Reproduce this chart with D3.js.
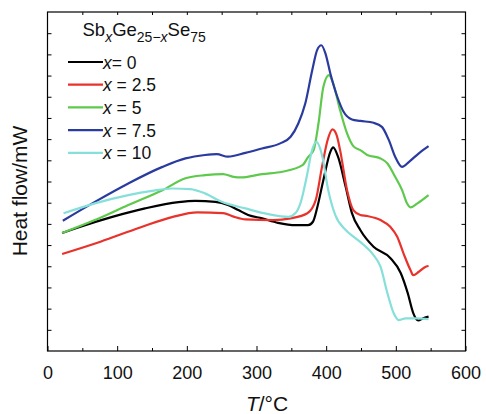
<!DOCTYPE html>
<html>
<head>
<meta charset="utf-8">
<script src="https://cdn.jsdelivr.net/npm/d3@7"></script>
<style>
  body { margin: 0; background: #fff; }
  svg { font-family: "Liberation Sans", Arial, sans-serif; }
</style>
</head>
<body>
<svg id="chart" width="486" height="414"></svg>
<script>
// temperatures (°C) and heat flow (arbitrary units, one unit per y tick)
const tBlack = [21, 44, 93, 140, 188, 212, 241, 259, 274, 288, 308, 331, 356, 374, 381, 387, 396, 406, 410, 417, 428, 437, 449, 468, 492, 507, 517, 525, 532, 540, 547]
const hBlack = [5.57, 5.83, 6.33, 6.73, 7.03, 7.09, 7.04, 6.89, 6.65, 6.42, 6.26, 6.05, 5.94, 5.94, 6.1, 6.75, 8.07, 9.4, 9.61, 9.17, 7.75, 6.51, 5.71, 4.92, 4.39, 3.68, 2.74, 1.79, 1.44, 1.56, 1.62]

const tRed = [21, 76, 133, 180, 215, 252, 267, 284, 324, 349, 373, 385, 394, 402, 409, 415, 420, 430, 439, 449, 459, 478, 492, 502, 511, 521, 525, 533, 543, 547]
const hRed = [4.58, 5.16, 5.83, 6.33, 6.54, 6.51, 6.34, 6.21, 6.18, 6.26, 6.5, 7.12, 8.69, 9.95, 10.46, 10.19, 9.48, 7.59, 6.65, 6.42, 6.37, 6.18, 5.86, 5.39, 4.61, 3.82, 3.58, 3.74, 3.98, 4.01]

const tGreen = [21, 68, 116, 165, 198, 226, 252, 267, 277, 308, 337, 366, 374, 382, 389, 396, 404, 410, 420, 430, 439, 449, 459, 478, 488, 499, 509, 516, 521, 531, 547]
const hGreen = [5.57, 6.18, 6.89, 7.59, 8.15, 8.3, 8.35, 8.22, 8.19, 8.35, 8.46, 8.77, 9.15, 9.48, 10.75, 12.47, 13.02, 12.63, 11.37, 10.27, 9.67, 9.48, 9.25, 9.09, 8.85, 8.22, 7.59, 6.97, 6.78, 6.97, 7.36]

const tBlue = [22, 68, 116, 165, 198, 226, 243, 259, 284, 308, 334, 349, 360, 370, 380, 387, 393, 399, 406, 416, 425, 437, 449, 468, 480, 490, 499, 509, 519, 533, 547]
const hBlue = [6.15, 7.04, 7.91, 8.69, 9.09, 9.25, 9.29, 9.17, 9.35, 9.56, 9.8, 10.11, 10.74, 11.68, 13.25, 14.2, 14.43, 14.04, 13.1, 12.0, 11.29, 10.93, 10.86, 10.77, 10.58, 9.95, 9.17, 8.69, 8.93, 9.33, 9.67]

const tCyan = [23, 68, 116, 150, 179, 205, 226, 250, 284, 317, 346, 356, 363, 373, 379, 386, 394, 403, 413, 428, 442, 454, 468, 478, 488, 497, 504, 514, 531, 547]
const hCyan = [6.5, 6.97, 7.36, 7.56, 7.67, 7.64, 7.44, 7.04, 6.73, 6.46, 6.33, 6.51, 6.97, 8.38, 9.39, 9.87, 9.25, 7.59, 6.42, 5.71, 5.33, 5.0, 4.53, 3.98, 2.72, 1.78, 1.46, 1.54, 1.54, 1.5]

const seriesLabels = ["0", "2.5", "5", "7.5", "10"]
const seriesColors = ["#000000", "#e8322b", "#5ec94c", "#2a3b9f", "#86e0d9"]
const xTicks = [0, 100, 200, 300, 400, 500, 600]

const series = [
  [tBlack, hBlack],
  [tRed, hRed],
  [tGreen, hGreen],
  [tBlue, hBlue],
  [tCyan, hCyan],
].map(([t, h], i) => ({
  label: seriesLabels[i],
  color: seriesColors[i],
  points: t.map((d, j) => [d, h[j]]),
}))

const frame = { left: 47.5, right: 465.5, top: 12, bottom: 351 }

const x = d3.scaleLinear().domain([0, 600]).range([frame.left, frame.right])
const y = d3.scaleLinear().domain([0, 16]).range([frame.bottom, frame.top])

const svg = d3.select("#chart")

/*
  Axes and ticks (all pointing inside)
*/
const bottomAxis = svg
  .append("g")
  .attr("transform", "translate(0," + frame.bottom + ")")
  .call(d3.axisBottom(x).tickValues(xTicks).tickSize(-5).tickPadding(15).tickSizeOuter(0))
bottomAxis
  .selectAll("text")
  .attr("font-size", 18)
  .attr("fill", "#111")
  .attr("font-family", "Liberation Sans, Arial")

svg
  .append("g")
  .attr("transform", "translate(0," + frame.bottom + ")")
  .call(d3.axisBottom(x).tickValues(d3.range(50, 600, 100)).tickSize(-3).tickFormat("").tickSizeOuter(0))

svg
  .append("g")
  .attr("transform", "translate(0," + frame.top + ")")
  .call(d3.axisTop(x).tickValues(d3.range(50, 600, 50)).tickSize(-3).tickFormat("").tickSizeOuter(0))

svg
  .append("g")
  .attr("transform", "translate(" + frame.left + ",0)")
  .call(d3.axisLeft(y).tickValues(d3.range(1, 16)).tickSize(-4).tickFormat("").tickSizeOuter(0))

svg
  .append("g")
  .attr("transform", "translate(" + frame.right + ",0)")
  .call(d3.axisRight(y).tickValues(d3.range(1, 16)).tickSize(-4).tickFormat("").tickSizeOuter(0))

svg.selectAll(".domain").remove()
svg.selectAll(".tick line").attr("stroke", "#000").attr("stroke-width", 1)

svg
  .append("rect")
  .attr("x", frame.left)
  .attr("y", frame.top)
  .attr("width", frame.right - frame.left)
  .attr("height", frame.bottom - frame.top)
  .attr("fill", "none")
  .attr("stroke", "#000")
  .attr("stroke-width", 1.2)

/*
  Curves
*/
const line = d3
  .line()
  .x((d) => x(d[0]))
  .y((d) => y(d[1]))
  .curve(d3.curveMonotoneX)

svg
  .append("g")
  .selectAll("path")
  .data(series)
  .enter()
  .append("path")
  .attr("d", (s) => line(s.points))
  .attr("fill", "none")
  .attr("stroke", (s) => s.color)
  .attr("stroke-width", 2.2)
  .attr("stroke-linejoin", "round")

/*
  Legend
*/
const title = svg
  .append("text")
  .attr("x", 82.5)
  .attr("y", 36)
  .attr("font-size", 18.5)
  .attr("fill", "#111")
title.append("tspan").text("Sb")
title.append("tspan").attr("dy", 6).attr("font-size", 14).attr("font-style", "italic").text("x")
title.append("tspan").attr("dy", -6).text("Ge")
title.append("tspan").attr("dy", 6).attr("font-size", 14).text("25\u2212")
title.append("tspan").attr("font-size", 14).attr("font-style", "italic").text("x")
title.append("tspan").attr("dy", -6).text("Se")
title.append("tspan").attr("dy", 6).attr("font-size", 14).text("75")

const legend = svg
  .append("g")
  .selectAll("g")
  .data(series)
  .enter()
  .append("g")
  .attr("transform", (s, i) => "translate(68," + (62 + i * 22.7) + ")")

legend
  .append("line")
  .attr("x1", 0)
  .attr("x2", 35)
  .attr("stroke", (s) => s.color)
  .attr("stroke-width", 2.2)

const legendText = legend
  .append("text")
  .attr("x", 35)
  .attr("y", 6.5)
  .attr("font-size", 17.5)
  .attr("fill", "#111")
legendText.append("tspan").attr("font-style", "italic").text("x")
legendText.append("tspan").text((s, i) => (i === 0 ? "= " : " = ") + s.label)

/*
  Axis titles
*/
const xTitle = svg
  .append("text")
  .attr("x", 267)
  .attr("y", 411)
  .attr("text-anchor", "middle")
  .attr("font-size", 21)
  .attr("fill", "#111")
xTitle.append("tspan").attr("font-style", "italic").text("T")
xTitle.append("tspan").text("/\u00b0C")

svg
  .append("text")
  .attr("transform", "translate(27,191) rotate(-90)")
  .attr("text-anchor", "middle")
  .attr("font-size", 21)
  .attr("fill", "#111")
  .text("Heat flow/mW")
</script>
</body>
</html>
